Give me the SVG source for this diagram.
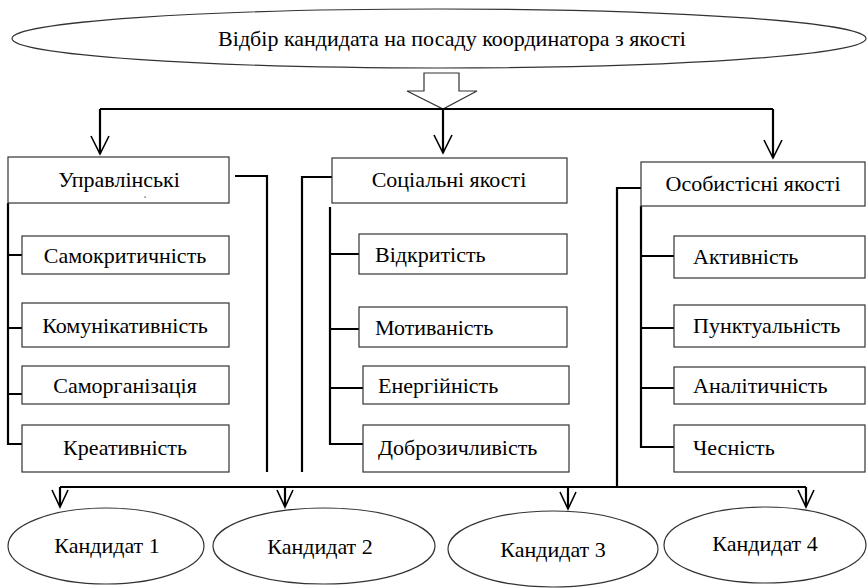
<svg xmlns="http://www.w3.org/2000/svg" width="868" height="588" viewBox="0 0 868 588">
<defs>
<style>
.t{font-family:"Liberation Serif","Times New Roman","DejaVu Serif",serif;font-size:22px;fill:#000}
.c{text-anchor:middle}
.box{fill:#fff;stroke:#333;stroke-width:1.2}
.ell{fill:#fff;stroke:#333;stroke-width:1.2}
.ln{fill:none;stroke:#000;stroke-width:2.2}
.ah{fill:none;stroke:#000;stroke-width:1.6}
</style>
</defs>
<rect width="868" height="588" fill="#fff"/>

<g id="top">
<ellipse class="ell" cx="439" cy="38.5" rx="427" ry="29.5"/>
<text class="t c" x="452" y="46">Відбір кандидата на посаду координатора з якості</text>
</g>

<g id="connectors">
<polygon points="424,73 459,73 459,91 477,91 443,109 407,91 424,91" fill="#fff" stroke="#333" stroke-width="1.2"/>
<path class="ln" d="M100,109 H773 M100,109 V154 M443,109 V153 M773,109 V158"/>
<path class="ah" d="M91,136 L100,154 L109,136 M434,135 L443,153 L452,135 M764,140 L773,158 L782,140"/>
<!-- left group -->
<path class="ln" d="M8,203 V444 H22 M8,255 H22 M8,328 H22 M8,394 H22"/>
<path class="ln" d="M235,176 H267 V472"/>
<!-- middle group -->
<path class="ln" d="M332,177 H302 V472"/>
<path class="ln" d="M330,207 V444 H363 M330,254 H359 M330,329 H359 M330,388 H363"/>
<!-- right group -->
<path class="ln" d="M641,188 H617 V487"/>
<path class="ln" d="M641,206 V447 H674 M641,256 H674 M641,328 H674 M641,388 H674"/>
<!-- bottom -->
<path class="ln" d="M60,487 H806 M60,487 V506 M285,487 V506 M568,487 V508 M806,487 V506"/>
<path class="ah" d="M52,490 L60,507 L68,490 M277,490 L285,507 L293,490 M560,492 L568,509 L576,492 M798,490 L806,507 L814,490"/>
</g>

<g id="n-upr">
<rect class="box" x="8" y="157" width="221" height="46"/>
<text class="t c" x="119" y="187">Управлінські</text>
<rect x="144.5" y="196.5" width="1.2" height="1.2" fill="#333"/>
</g>
<g id="n-samokr"><rect class="box" x="22" y="236" width="207" height="38"/><text class="t c" x="125" y="263">Самокритичність</text></g>
<g id="n-komun"><rect class="box" x="22" y="303" width="207" height="44"/><text class="t c" x="125" y="333">Комунікативність</text></g>
<g id="n-samorg"><rect class="box" x="22" y="366" width="207" height="38"/><text class="t c" x="125" y="393">Саморганізація</text></g>
<g id="n-kreat"><rect class="box" x="22" y="425" width="207" height="47"/><text class="t c" x="125" y="455">Креативність</text></g>

<g id="n-soc">
<rect class="box" x="332" y="158" width="235" height="45"/>
<text class="t c" x="449" y="187">Соціальні якості</text>
</g>
<g id="n-vidkr"><rect class="box" x="359" y="234" width="208" height="40"/><text class="t" x="375" y="262">Відкритість</text></g>
<g id="n-motiv"><rect class="box" x="359" y="307" width="208" height="40"/><text class="t" x="375" y="335">Мотиваність</text></g>
<g id="n-energ"><rect class="box" x="363" y="366" width="206" height="38"/><text class="t" x="378" y="393">Енергійність</text></g>
<g id="n-dobro"><rect class="box" x="363" y="425" width="206" height="47"/><text class="t" x="378" y="455">Доброзичливість</text></g>

<g id="n-osob">
<rect class="box" x="641" y="162" width="224" height="44"/>
<text class="t c" x="753" y="191">Особистісні якості</text>
</g>
<g id="n-aktiv"><rect class="box" x="674" y="236" width="191" height="42"/><text class="t" x="693" y="264">Активність</text></g>
<g id="n-punkt"><rect class="box" x="674" y="305" width="191" height="42"/><text class="t" x="693" y="333">Пунктуальність</text></g>
<g id="n-analit"><rect class="box" x="674" y="367" width="191" height="37"/><text class="t" x="693" y="393">Аналітичність</text></g>
<g id="n-chesn"><rect class="box" x="674" y="425" width="191" height="47"/><text class="t" x="693" y="455">Чесність</text></g>

<g id="n-k1"><ellipse class="ell" cx="106" cy="546" rx="98" ry="38"/><text class="t c" x="107" y="553">Кандидат 1</text></g>
<g id="n-k2"><ellipse class="ell" cx="324" cy="546" rx="111" ry="38"/><text class="t c" x="320" y="554">Кандидат 2</text></g>
<g id="n-k3"><ellipse class="ell" cx="553" cy="549" rx="105" ry="38"/><text class="t c" x="553" y="557">Кандидат 3</text></g>
<g id="n-k4"><ellipse class="ell" cx="765" cy="545" rx="101" ry="38"/><text class="t c" x="765" y="551">Кандидат 4</text></g>
</svg>
